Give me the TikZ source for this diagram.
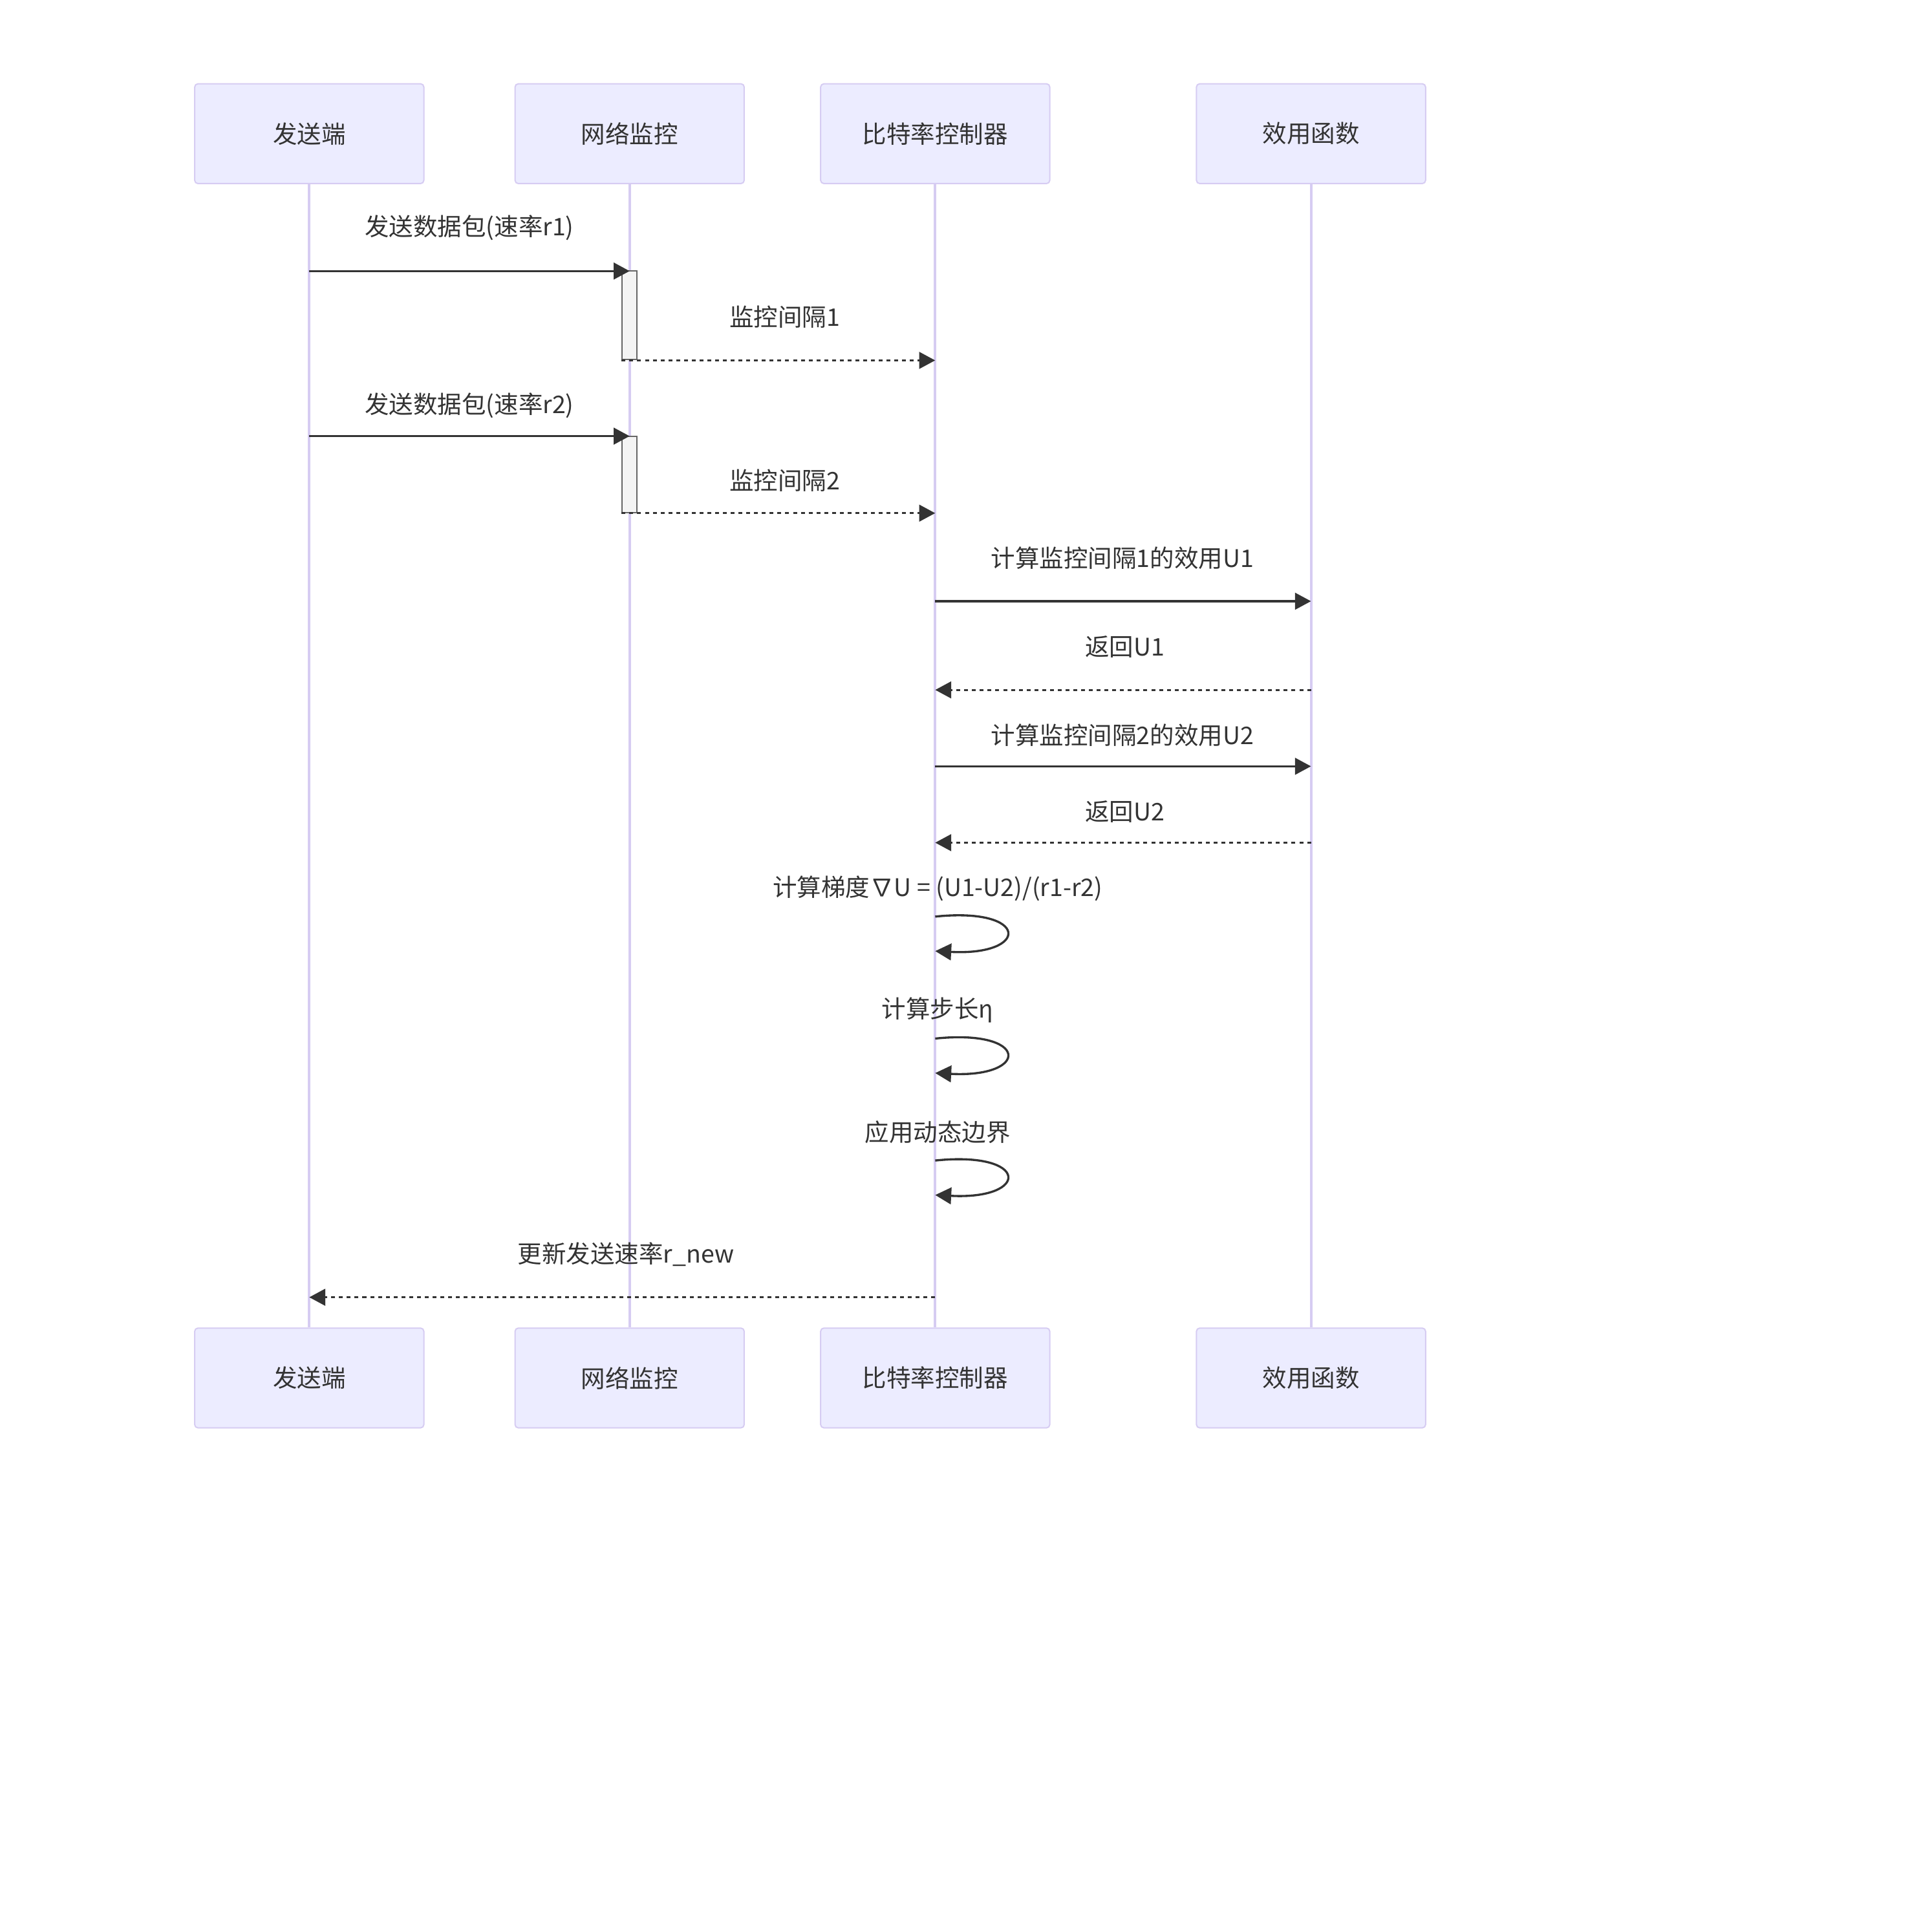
\documentclass[tikz,border=0pt]{standalone}
\usepackage{fontspec}
\setmainfont{Noto Sans CJK SC}
\usetikzlibrary{arrows.meta,positioning}
\definecolor{ActorFill}{HTML}{ECECFF}
\definecolor{ActorLine}{HTML}{D6CCF2}
\definecolor{MsgGray}{HTML}{333333}
\definecolor{ActFill}{HTML}{F4F4F4}
\definecolor{ActLine}{HTML}{666666}
\newcommand{\msgfont}{\fontsize{11.2}{13}\selectfont}

\begin{document}
\begin{tikzpicture}[
    x=0.02cm, y=-0.02cm,
    actor/.style={rectangle,rounded corners=1.5pt,draw=ActorLine,fill=ActorFill,
      line width=0.6pt,minimum width=3.72cm,minimum height=1.62cm,font=\msgfont,text=MsgGray},
    act/.style={rectangle,draw=ActLine,fill=ActFill,line width=0.6pt,
      minimum width=0.24cm,inner sep=0pt},
    life/.style={draw=ActorLine,line width=1.2pt},
    msg/.style={draw=MsgGray,line width=1pt,-{Triangle[length=0.26cm,width=0.27cm]}},
    reply/.style={msg,dash pattern=on 1.8pt off 1.8pt},
    lbl/.style={font=\msgfont,text=MsgGray},
  ]
  \path[use as bounding box] (0,0) rectangle (1568,1560);
  % Actors - top
  \node[actor] (snd) at (251,108.5) {发送端};
  \node[actor] (mon) at (511,108.5) {网络监控};
  \node[actor] (ctl) at (759,108.5) {比特率控制器};
  \node[actor] (utl) at (1064,108.5) {效用函数};
  % Actors - bottom
  \node[actor] (sndB) at (251,1118.5) {发送端};
  \node[actor] (monB) at (511,1118.5) {网络监控};
  \node[actor] (ctlB) at (759,1118.5) {比特率控制器};
  \node[actor] (utlB) at (1064,1118.5) {效用函数};
  % Lifelines
  \draw[life] (snd) -- (sndB);
  \draw[life] (mon) -- (monB);
  \draw[life] (ctl) -- (ctlB);
  \draw[life] (utl) -- (utlB);
  % Activations
  \node[act,minimum height=1.44cm] (act1) at (511,256) {};
  \node[act,minimum height=1.24cm] (act2) at (511,385) {};
  % Sender -> Monitor
  \node[lbl] (m1) at (381,185) {发送数据包(速率r1)};
  \draw[msg] (snd |- 0,220) -- (mon |- 0,220);
  \node[lbl] (m2) at (637,257) {监控间隔1};
  \draw[reply] (act1.south west) -- (ctl |- act1.south);
  \node[lbl] (m3) at (381,329) {发送数据包(速率r2)};
  \draw[msg] (snd |- 0,354) -- (mon |- 0,354);
  \node[lbl] (m4) at (637,390) {监控间隔2};
  \draw[reply] (act2.south west) -- (ctl |- act2.south);
  % Controller <-> Utility
  \node[lbl] (m5) at (911,453) {计算监控间隔1的效用U1};
  \draw[msg] (ctl |- 0,488) -- (utl |- 0,488);
  \node[lbl] (m6) at (913,525) {返回U1};
  \draw[reply] (utl |- 0,560) -- (ctl |- 0,560);
  \node[lbl] (m7) at (911,597) {计算监控间隔2的效用U2};
  \draw[msg] (ctl |- 0,622) -- (utl |- 0,622);
  \node[lbl] (m8) at (913,659) {返回U2};
  \draw[reply] (utl |- 0,684) -- (ctl |- 0,684);
  % Self calls
  \node[lbl] (m9) at (761,721) {计算梯度∇U = (U1-U2)/(r1-r2)};
  \draw[msg] (ctl |- 0,744) .. controls +(77,-8) and +(77,4) .. (ctl |- 0,772);
  \node[lbl] (m10) at (761,820) {计算步长η};
  \draw[msg] (ctl |- 0,843) .. controls +(77,-8) and +(77,4) .. (ctl |- 0,871);
  \node[lbl] (m11) at (761,919) {应用动态边界};
  \draw[msg] (ctl |- 0,942) .. controls +(77,-8) and +(77,4) .. (ctl |- 0,970);
  % Controller -> Sender
  \node[lbl] (m12) at (508,1018) {更新发送速率r\_new};
  \draw[reply] (ctl |- 0,1053) -- (snd |- 0,1053);
\end{tikzpicture}
\end{document}
